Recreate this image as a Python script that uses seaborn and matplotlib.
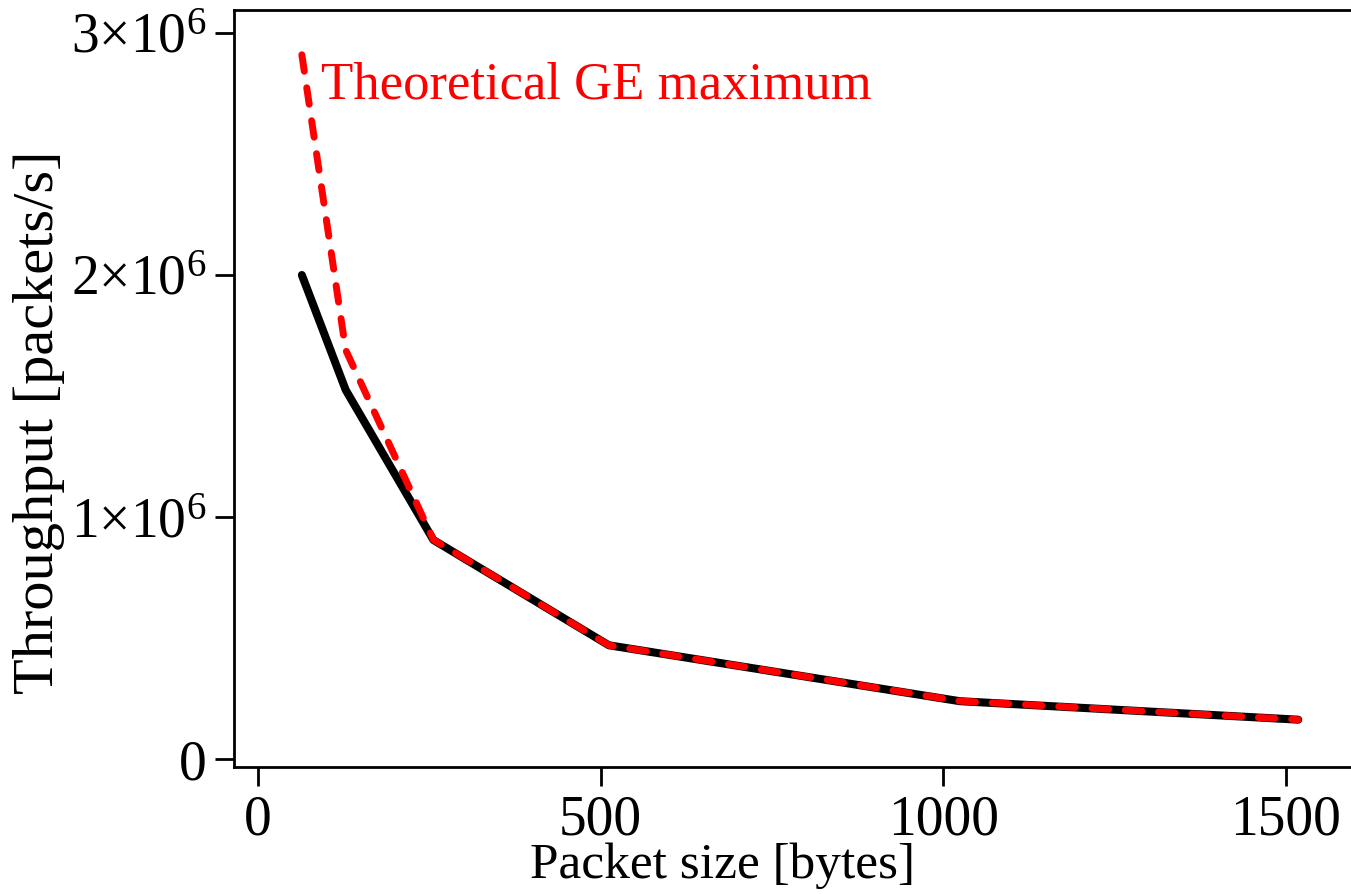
import matplotlib
matplotlib.use("Agg")
import matplotlib.pyplot as plt
import seaborn as sns
import numpy as np
import pandas as pd

# packet sizes [bytes] and throughput [packets/s]
packet_size = [64, 128, 256, 512, 1024, 1518]
measured = [2.0e6, 1.525e6, 0.905e6, 0.470e6, 0.239e6, 0.1625e6]
theoretical = [2.91e6, 1.69e6, 0.906e6, 0.470e6, 0.2395e6, 0.1625e6]

x_ticks = [0, 500, 1000, 1500]
y_ticks = [0, 1e6, 2e6, 3e6]
y_ticklabels = ['0', r'$1{\times}10^6$', r'$2{\times}10^6$', r'$3{\times}10^6$']

sns.set_style('ticks')
plt.rcParams['font.family'] = ['Liberation Serif', 'DejaVu Serif']
plt.rcParams['mathtext.fontset'] = 'custom'
plt.rcParams['mathtext.rm'] = 'Liberation Serif'
plt.rcParams['mathtext.it'] = 'Liberation Serif:italic'
plt.rcParams['text.color'] = 'black'
plt.rcParams['axes.labelcolor'] = 'black'
plt.rcParams['xtick.color'] = 'black'
plt.rcParams['ytick.color'] = 'black'

df = pd.DataFrame({'size': packet_size, 'measured': measured, 'theoretical': theoretical})

fig = plt.figure(figsize=(13.51, 8.94), dpi=100)
ax = fig.add_axes([234 / 1351, 1 - 767 / 894, 1 - 234 / 1351, (767 - 10) / 894])

sns.lineplot(data=df, x='size', y='measured', color='black', lw=5.8, ax=ax)
sns.lineplot(data=df, x='size', y='theoretical', color='red', lw=5, ax=ax)
for line in ax.lines:
    line.set_solid_capstyle('round')
    line.set_dash_capstyle('round')
    line.set_solid_joinstyle('round')
ax.lines[1].set_dashes([2.4, 2.4])

ax.text(92, 2.73e6, 'Theoretical GE maximum', color='red', fontsize=38,
        ha='left', va='baseline')

ax.set_xlim(-35, 1595)
ax.set_ylim(-0.033e6, 3.095e6)
ax.set_xticks(x_ticks)
ax.set_yticks(y_ticks)
ax.set_yticklabels(y_ticklabels)
ax.tick_params(axis='both', labelsize=40, width=2, length=14, direction='out', pad=6)

ax.set_xlabel('Packet size [bytes]', fontsize=37)
ax.xaxis.set_label_coords(0.437, -0.100)
ax.set_ylabel('Throughput [packets/s]', fontsize=42)
ax.yaxis.set_label_coords(-0.151, 0.455)

ax.spines['right'].set_visible(False)
for s in ['left', 'bottom', 'top']:
    ax.spines[s].set_linewidth(2)
    ax.spines[s].set_color('black')

fig.savefig('out.png', dpi=100)
